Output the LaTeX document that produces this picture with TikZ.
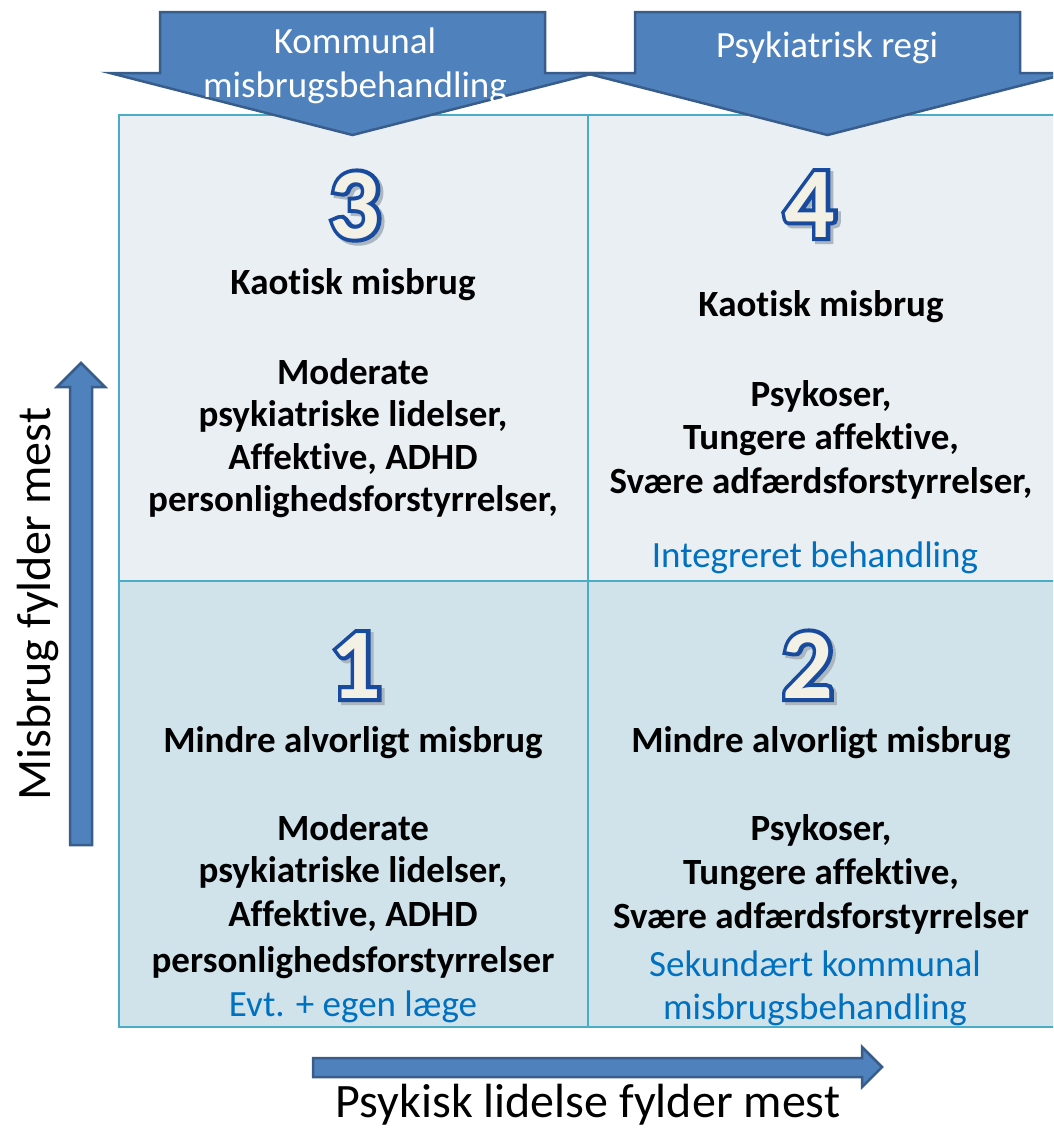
\documentclass[tikz,border=0pt]{standalone}
\usepackage{fontspec}
\setmainfont{Carlito}[Ligatures={NoCommon}]
\newfontfamily\numfam{Carlito}[Ligatures={NoCommon}, BoldFeatures={FakeBold=8}]
\definecolor{celltop}{RGB}{233,239,243}
\definecolor{cellbot}{RGB}{208,226,234}
\definecolor{gridc}{RGB}{75,172,198}
\definecolor{arrfill}{RGB}{79,129,189}
\definecolor{arredge}{RGB}{56,93,138}
\definecolor{txtblue}{RGB}{0,112,192}
\definecolor{shadowc}{RGB}{172,182,190}
\definecolor{numfill}{RGB}{243,240,229}
\definecolor{numedge}{RGB}{24,74,158}
\begin{document}
\begin{tikzpicture}[x=1pt,y=-1pt,
  arr/.style={fill=arrfill, draw=arredge, line width=2.5pt, line join=miter},
  bt/.style={font=\fontsize{37}{43}\selectfont\bfseries, anchor=base, inner sep=0pt},
  bl/.style={font=\fontsize{37}{43}\selectfont, text=txtblue, anchor=base, inner sep=0pt},
  wt/.style={font=\fontsize{37}{43}\selectfont, text=white, anchor=base, inner sep=0pt},
  ax/.style={font=\fontsize{48}{56}\selectfont, anchor=base, inner sep=0pt},
  num/.style={font=\fontsize{100}{110}\selectfont\bfseries, anchor=base, inner sep=0pt, text=numfill},
  numo/.style={font=\numfam\fontsize{100}{110}\selectfont\bfseries, anchor=base, inner sep=0pt, text=numedge},
  shd/.style={font=\numfam\fontsize{100}{110}\selectfont\bfseries, anchor=base, inner sep=0pt, text=shadowc}
]
\useasboundingbox (0,0) rectangle (1053,1128);
\clip (0,0) rectangle (1053,1128);
% cells
\fill[celltop] (119,115) rectangle (1070,581);
\fill[cellbot] (119,581) rectangle (1070,1027);
\draw[gridc, line width=2.5pt] (1070,115) -- (119,115) -- (119,1027) -- (1070,1027);
\draw[gridc, line width=2.5pt] (119,581) -- (1070,581);
\draw[gridc, line width=2.5pt] (588,115) -- (588,1027);
% top arrows
\draw[arr] (160,12) -- (545,12) -- (545,73) -- (595,73) -- (352.5,135) -- (110,73) -- (160,73) -- cycle;
\draw[arr] (635,12) -- (1020,12) -- (1020,73) -- (1070,73) -- (827.5,135) -- (585,73) -- (635,73) -- cycle;
\node[wt] (k1) at (355,53) {Kommunal};
\node[wt] (k2) at (355,97) {misbrugsbehandling};
\node[wt] (p1) at (827,57) {Psykiatrisk regi};
% side arrows
\draw[arr] (70,845) -- (92,845) -- (92,387) -- (105,387) -- (81,363) -- (57,387) -- (70,387) -- cycle;
\draw[arr] (313,1058) -- (862,1058) -- (862,1047) -- (882,1067) -- (862,1087) -- (862,1077) -- (313,1077) -- cycle;
\node[ax, rotate=90] (yl) at (50,604) {Misbrug fylder mest};
\node[ax] (xl) at (588,1117) {Psykisk lidelse fylder mest};
% numbers
\node[shd] (n3s) at (358,241) {3};
\node[numo] (n3o) at (355,238) {3};
\node[num] (n3) at (355,238) {3};
\node[shd] (n4s) at (813,240) {4};
\node[numo] (n4o) at (810,237) {4};
\node[num] (n4) at (810,237) {4};
\node[shd] (n1s) at (359,701) {1};
\node[numo] (n1o) at (356,698) {1};
\node[num] (n1) at (356,698) {1};
\node[shd] (n2s) at (811,701) {2};
\node[numo] (n2o) at (808,698) {2};
\node[num] (n2) at (808,698) {2};
% cell 3
\node[bt] (c3a) at (353,294) {Kaotisk misbrug};
\node[bt] (c3b) at (353,384) {Moderate};
\node[bt] (c3c) at (353,426) {psykiatriske lidelser,};
\node[bt] (c3d) at (353,469) {Affektive, ADHD};
\node[bt] (c3e) at (353,511) {personlighedsforstyrrelser,};
% cell 4
\node[bt] (c4a) at (821,316) {Kaotisk misbrug};
\node[bt] (c4b) at (821,406) {Psykoser,};
\node[bt] (c4c) at (821,449) {Tungere affektive,};
\node[bt] (c4d) at (821,493) {Svære adfærdsforstyrrelser,};
\node[bl] (c4e) at (815,567) {Integreret behandling};
% cell 1
\node[bt] (c1a) at (353,752) {Mindre alvorligt misbrug};
\node[bt] (c1b) at (353,840) {Moderate};
\node[bt] (c1c) at (353,882) {psykiatriske lidelser,};
\node[bt] (c1d) at (353,926) {Affektive, ADHD};
\node[bt] (c1e) at (353,972) {personlighedsforstyrrelser};
\node[bl] (c1f) at (353,1016) {Evt. + egen læge};
% cell 2
\node[bt] (c2a) at (821,752) {Mindre alvorligt misbrug};
\node[bt] (c2b) at (821,840) {Psykoser,};
\node[bt] (c2c) at (821,884) {Tungere affektive,};
\node[bt] (c2d) at (821,928) {Svære adfærdsforstyrrelser};
\node[bl] (c2e) at (815,976) {Sekundært kommunal};
\node[bl] (c2f) at (815,1019) {misbrugsbehandling};
\end{tikzpicture}
\end{document}
